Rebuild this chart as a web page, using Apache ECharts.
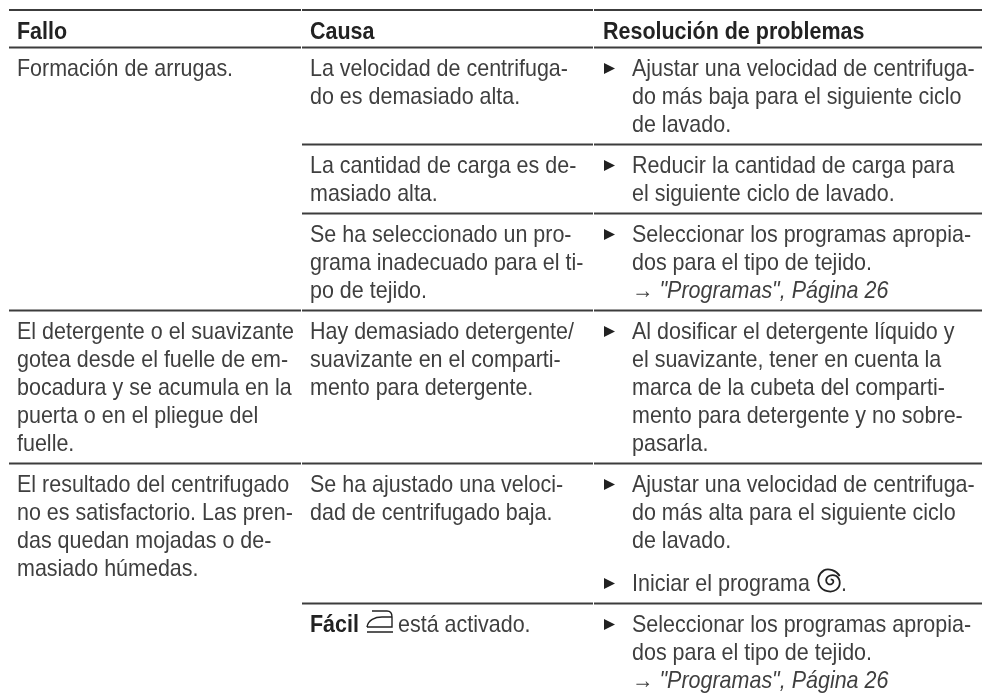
<!DOCTYPE html>
<html>
<head>
<meta charset="utf-8">
<style>
  html, body { margin: 0; padding: 0; background: #fff; }
  #chart { width: 982px; height: 696px; }
</style>
</head>
<body>
<div id="chart"></div>
<script src="https://cdn.jsdelivr.net/npm/echarts@6/dist/echarts.min.js"></script>
<script>
// contenido de la tabla
const headers = ['Fallo', 'Causa', 'Resolución de problemas']
const fallos = [
  ['Formación de arrugas.'],
  ['El detergente o el suavizante', 'gotea desde el fuelle de em-', 'bocadura y se acumula en la', 'puerta o en el pliegue del', 'fuelle.'],
  ['El resultado del centrifugado', 'no es satisfactorio. Las pren-', 'das quedan mojadas o de-', 'masiado húmedas.']
]
const causas = [
  [['La velocidad de centrifuga-', 'do es demasiado alta.'], ['La cantidad de carga es de-', 'masiado alta.'], ['Se ha seleccionado un pro-', 'grama inadecuado para el ti-', 'po de tejido.']],
  [['Hay demasiado detergente/', 'suavizante en el comparti-', 'mento para detergente.']],
  [['Se ha ajustado una veloci-', 'dad de centrifugado baja.'], ['está activado.']]
]
const soluciones = [
  [[['Ajustar una velocidad de centrifuga-', 'do más baja para el siguiente ciclo', 'de lavado.']], [['Reducir la cantidad de carga para', 'el siguiente ciclo de lavado.']], [['Seleccionar los programas apropia-', 'dos para el tipo de tejido.', '→ "Programas", Página 26']]],
  [[['Al dosificar el detergente líquido y', 'el suavizante, tener en cuenta la', 'marca de la cubeta del comparti-', 'mento para detergente y no sobre-', 'pasarla.']]],
  [[['Ajustar una velocidad de centrifuga-', 'do más alta para el siguiente ciclo', 'de lavado.'], ['Iniciar el programa']], [['Seleccionar los programas apropia-', 'dos para el tipo de tejido.', '→ "Programas", Página 26']]]
]

// medidas de la maqueta
const colX = [17, 310, 632]
const headerX = [17, 310, 603]
const colEdge = [9, 301, 593, 982]
const lineH = 28
const rowPad = 13
const stepGap = 15
const firstLine = 29
const size = 24
const squeeze = 0.895
const font = size + 'px "Liberation Sans"'
const fontBold = 'bold ' + font
const fontItalic = 'italic ' + font

const cells = []
const rules = []

function addRule (y, fromCol) {
  for (let c = fromCol; c < 3; c++) rules.push([colEdge[c] + (c ? 1 : 0), colEdge[c + 1], y])
}

addRule(10, 0)
addRule(47.5, 0)
headers.forEach((h, i) => cells.push([headerX[i], 39, h, 'head']))

let y = 47.5
fallos.forEach((lines, r) => {
  lines.forEach((l, i) => cells.push([colX[0], y + firstLine + i * lineH, l, 'text']))
  causas[r].forEach((sub, s) => {
    const base = y + firstLine
    sub.forEach((l, i) => {
      if (l === 'está activado.') {
        cells.push([colX[1], base, 'Fácil', 'head'])
        cells.push([colX[1] + 57, base, '', 'iron'])
        cells.push([colX[1] + 88, base, l, 'text'])
      } else {
        cells.push([colX[1], base + i * lineH, l, 'text'])
      }
    })
    let off = 0
    soluciones[r][s].forEach((step) => {
      cells.push([colX[2] - 28, base + off - 8, '', 'bullet'])
      step.forEach((l, i) => {
        cells.push([colX[2], base + off + i * lineH, l, l.charAt(0) === '→' ? 'link' : 'text'])
        if (l === 'Iniciar el programa') {
          cells.push([colX[2] + 186, base + off, '', 'spiral'])
          cells.push([colX[2] + 209, base + off, '.', 'text'])
        }
      })
      off += step.length * lineH + stepGap
    })
    y += off - stepGap + rowPad
    if (s < causas[r].length - 1) addRule(y, 1)
  })
  if (r < fallos.length - 1) addRule(y, 0)
})

const chart = echarts.init(document.getElementById('chart'))
chart.setOption({
  animation: false,
  grid: { left: 0, right: 0, top: 0, bottom: 0 },
  xAxis: { type: 'value', min: 0, max: 982, show: false },
  yAxis: { type: 'value', min: 0, max: 696, inverse: true, show: false },
  series: [
    {
      type: 'custom',
      data: rules,
      renderItem (params, api) {
        const a = api.coord([api.value(0), api.value(2)])
        const b = api.coord([api.value(1), api.value(2)])
        return {
          type: 'line',
          shape: { x1: a[0], y1: a[1], x2: b[0], y2: b[1] },
          style: { stroke: '#3c3c3c', lineWidth: 2 }
        }
      }
    },
    {
      type: 'custom',
      data: cells,
      encode: { x: 0, y: 1 },
      renderItem (params, api) {
        const item = cells[params.dataIndex]
        const p = api.coord([item[0], item[1]])
        if (item[3] === 'bullet') {
          return { type: 'polygon', shape: { points: [[p[0], p[1] - 5.5], [p[0] + 11, p[1]], [p[0], p[1] + 5.5]] }, style: { fill: '#222' } }
        }
        if (item[3] === 'iron') {
          return {
            type: 'path',
            shape: {
              pathData: 'M 0 22 L 26 22 M 0 17 L 25 17 L 25 7 C 25 3 23 1 20 1 L 5 1 M 0 17 C 1 10 8 7 15 7 L 25 7',
              x: p[0], y: p[1] - 22, width: 26, height: 22
            },
            style: { stroke: '#222', fill: null, lineWidth: 1.4 }
          }
        }
        if (item[3] === 'spiral') {
          return {
            type: 'path',
            shape: {
              pathData: 'M 20 7 C 17 2 10 0 6 2 C 1 5 0 11 2 15 C 5 21 13 22 17 19 C 21 16 21 10 17 7 C 13 5 8 7 8 11 C 8 14 11 15 13 14 C 15 13 15 10 12 10',
              x: p[0], y: p[1] - 22, width: 22, height: 22
            },
            style: { stroke: '#222', fill: null, lineWidth: 1.8 }
          }
        }
        const f = item[3] === 'head' ? fontBold : item[3] === 'link' ? fontItalic : font
        return {
          type: 'text',
          x: p[0],
          y: p[1] - 19,
          scaleX: squeeze,
          style: { text: item[2], font: f, fill: item[3] === 'head' ? '#222' : '#3f3f3f' }
        }
      }
    }
  ]
})
</script>
</body>
</html>
